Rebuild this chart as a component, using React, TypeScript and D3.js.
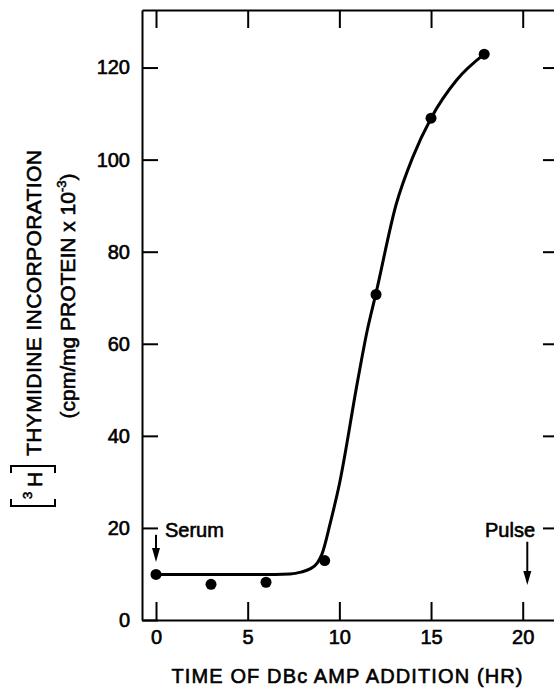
import React, { useEffect, useRef } from "react";
import * as d3 from "d3";

// measured points (hours after serum, cpm/mg protein x 10^-3)
const timeHr = [0, 3, 6, 9.2, 12, 15, 17.9];
const incorporation = [9.9, 7.75, 8.2, 12.9, 70.7, 109, 122.9];

// hand drawn fitted curve
const curveHr = [0, 6.5, 7.3, 7.9, 8.4, 8.8, 9.05, 9.5, 10.0, 11.0, 11.5, 12.0, 13.1, 14.0, 15.0, 16.4, 17.9];
const curveValue = [9.9, 9.9, 10.0, 10.4, 11.1, 12.4, 14.3, 21, 29.5, 52, 62.5, 71, 90.3, 100.5, 109, 117.3, 122.9];

const xTicks = [0, 5, 10, 15, 20];
const yTicks = [0, 20, 40, 60, 80, 100, 120];

// annotation arrows: [hour, from value, to value]
const serumArrow = [0, 18.5, 12.6];
const pulseArrow = [20.25, 17, 7.6];

const FONT = "'Liberation Sans', Arial, Helvetica, sans-serif";

const App = () => {
    const svgRef = useRef<SVGSVGElement>(null);

    useEffect(() => {
        const svg = d3.select(svgRef.current);
        svg.selectAll("*").remove();

        const width = 554;
        const height = 688;
        svg.attr("width", width).attr("height", height);

        const xScale = d3.scaleLinear().domain([-0.764, 21.87]).range([142, 557]);
        const yScale = d3.scaleLinear().domain([0, 132.5]).range([620, 10]);

        const styleAxis = (g: any) => {
            g.selectAll("path.domain").attr("stroke", "#000").attr("stroke-width", 2);
            g.selectAll(".tick line").attr("stroke", "#000").attr("stroke-width", 2);
            g.selectAll(".tick text")
                .attr("fill", "#000")
                .style("font-family", FONT)
                .style("font-size", "20px")
                .attr("stroke", "#000")
                .attr("stroke-width", 0.6);
        };

        // Frame axes
        svg.append("g")
            .attr("transform", `translate(0, ${yScale(0)})`)
            .call(d3.axisBottom(xScale).tickValues(xTicks).tickSizeInner(-18).tickSizeOuter(0).tickPadding(10))
            .call(styleAxis);

        svg.append("g")
            .attr("transform", `translate(0, ${yScale(132.5)})`)
            .call(d3.axisTop(xScale).tickValues(xTicks).tickSizeInner(-18).tickSizeOuter(0).tickFormat(() => ""))
            .call(styleAxis);

        svg.append("g")
            .attr("transform", `translate(${xScale(-0.764)}, 0)`)
            .call(d3.axisLeft(yScale).tickValues(yTicks).tickSizeInner(-16).tickSizeOuter(0).tickPadding(12))
            .call(styleAxis);

        svg.append("g")
            .attr("transform", `translate(${xScale(21.87)}, 0)`)
            .call(d3.axisRight(yScale).tickValues(yTicks.slice(1)).tickSizeInner(-14).tickSizeOuter(0).tickFormat(() => ""))
            .call(styleAxis);

        // Fitted curve
        const curveData = curveHr.map((h, i) => [h, curveValue[i]] as [number, number]);
        const line = d3.line<[number, number]>()
            .x((d) => xScale(d[0]))
            .y((d) => yScale(d[1]))
            .curve(d3.curveMonotoneX);

        svg.append("path")
            .datum(curveData)
            .attr("d", line)
            .attr("fill", "none")
            .attr("stroke", "#000")
            .attr("stroke-width", 3);

        // Points
        svg.append("g")
            .selectAll("circle")
            .data(timeHr.map((h, i) => [h, incorporation[i]]))
            .join("circle")
            .attr("cx", (d) => xScale(d[0]))
            .attr("cy", (d) => yScale(d[1]))
            .attr("r", 5.5)
            .attr("fill", "#000");

        // Arrows
        const drawArrow = (a: number[]) => {
            const ax = xScale(a[0]);
            const y1 = yScale(a[1]);
            const y2 = yScale(a[2]);
            svg.append("line")
                .attr("x1", ax).attr("x2", ax)
                .attr("y1", y1).attr("y2", y2 - 8)
                .attr("stroke", "#000").attr("stroke-width", 2);
            svg.append("path")
                .attr("d", `M${ax - 4},${y2 - 14} L${ax + 4},${y2 - 14} L${ax},${y2} Z`)
                .attr("fill", "#000");
        };
        drawArrow(serumArrow);
        drawArrow(pulseArrow);

        const addText = (txt: string, x: number, y: number, anchor: string, size: number) =>
            svg.append("text")
                .attr("x", x).attr("y", y)
                .attr("text-anchor", anchor)
                .style("font-family", FONT)
                .style("font-size", `${size}px`)
                .attr("fill", "#000")
                .attr("stroke", "#000")
                .attr("stroke-width", 0.6)
                .text(txt);

        addText("Serum", 165, 537, "start", 20);
        addText("Pulse", 535, 537, "end", 20);

        // X axis title
        addText("TIME OF DBc AMP ADDITION (HR)", 347, 683, "middle", 20)
            .attr("textLength", 351)
            .attr("lengthAdjust", "spacing");

        // Y axis title, line 1
        const yTitle = svg.append("g");
        const rotText = (txt: string, px: number, py: number, anchor: string, size: number) =>
            yTitle.append("text")
                .attr("transform", `translate(${px}, ${py}) rotate(-90)`)
                .attr("text-anchor", anchor)
                .style("font-family", FONT)
                .style("font-size", `${size}px`)
                .attr("fill", "#000")
                .attr("stroke", "#000")
                .attr("stroke-width", 0.6)
                .text(txt);

        rotText("THYMIDINE INCORPORATION", 41, 456, "start", 21)
            .attr("textLength", 306)
            .attr("lengthAdjust", "spacing");
        rotText("H", 42, 487, "start", 21);
        rotText("3", 32, 499, "start", 13);

        // brackets round the 3H
        yTitle.append("path")
            .attr("d", "M11,499 L11,506 L55,506 L55,499 M11,473 L11,466 L55,466 L55,473")
            .attr("fill", "none")
            .attr("stroke", "#000")
            .attr("stroke-width", 2);

        // Y axis title, line 2
        const line2 = rotText("", 75, 296, "middle", 21);
        line2.append("tspan").text("(cpm/mg PROTEIN x 10");
        line2.append("tspan").attr("dy", -9).style("font-size", "13px").text("-3");
        line2.append("tspan").attr("dy", 9).text(")");
    }, []);

    return (
        <div style={{ position: "absolute", left: 0, top: 0, width: 554, height: 688, background: "#fff" }}>
            <svg ref={svgRef} style={{ display: "block" }}></svg>
        </div>
    );
};

export default App;
